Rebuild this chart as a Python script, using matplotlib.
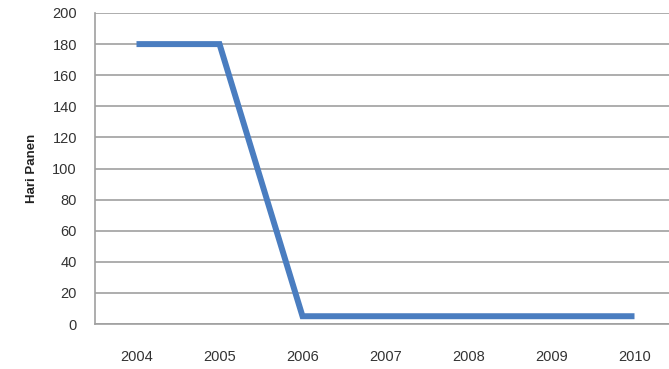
import matplotlib
matplotlib.use("Agg")
import matplotlib.pyplot as plt

YEARS = ["2004", "2005", "2006", "2007", "2008", "2009", "2010"]
HARI_PANEN = [180, 180, 5, 5, 5, 5, 5]
Y_TICKS = list(range(0, 201, 20))

plt.rcParams["font.family"] = ["Liberation Sans", "DejaVu Sans"]

fig = plt.figure(figsize=(6.69, 3.69), dpi=100)
# plot area runs past the right edge, like the cropped original
ax = fig.add_axes([95 / 669, 45 / 369, 581 / 669, 311 / 369])

ax.plot(range(len(YEARS)), HARI_PANEN, color="#4A7DC0", linewidth=4.3,
        solid_capstyle="butt", solid_joinstyle="miter", zorder=3)

ax.set_xlim(-0.5, len(YEARS) - 0.5)
ax.set_ylim(0, 200)
ax.set_yticks(Y_TICKS)
ax.set_xticks(range(len(YEARS)))
ax.set_xticklabels(YEARS)
ax.yaxis.grid(True, color="#a0a0a0", linewidth=1.2)
ax.set_axisbelow(True)

for side in ["top", "right"]:
    ax.spines[side].set_visible(False)
for side in ["left", "bottom"]:
    ax.spines[side].set_color("#a0a0a0")
    ax.spines[side].set_linewidth(1.2)

ax.tick_params(axis="both", length=0, labelsize=10.5, colors="#333333")
ax.tick_params(axis="x", pad=19)
ax.tick_params(axis="y", pad=13)
ax.set_ylabel("Hari Panen", fontsize=9.5, fontweight="bold", color="#222222", labelpad=10)

fig.savefig("out.png", dpi=100)
